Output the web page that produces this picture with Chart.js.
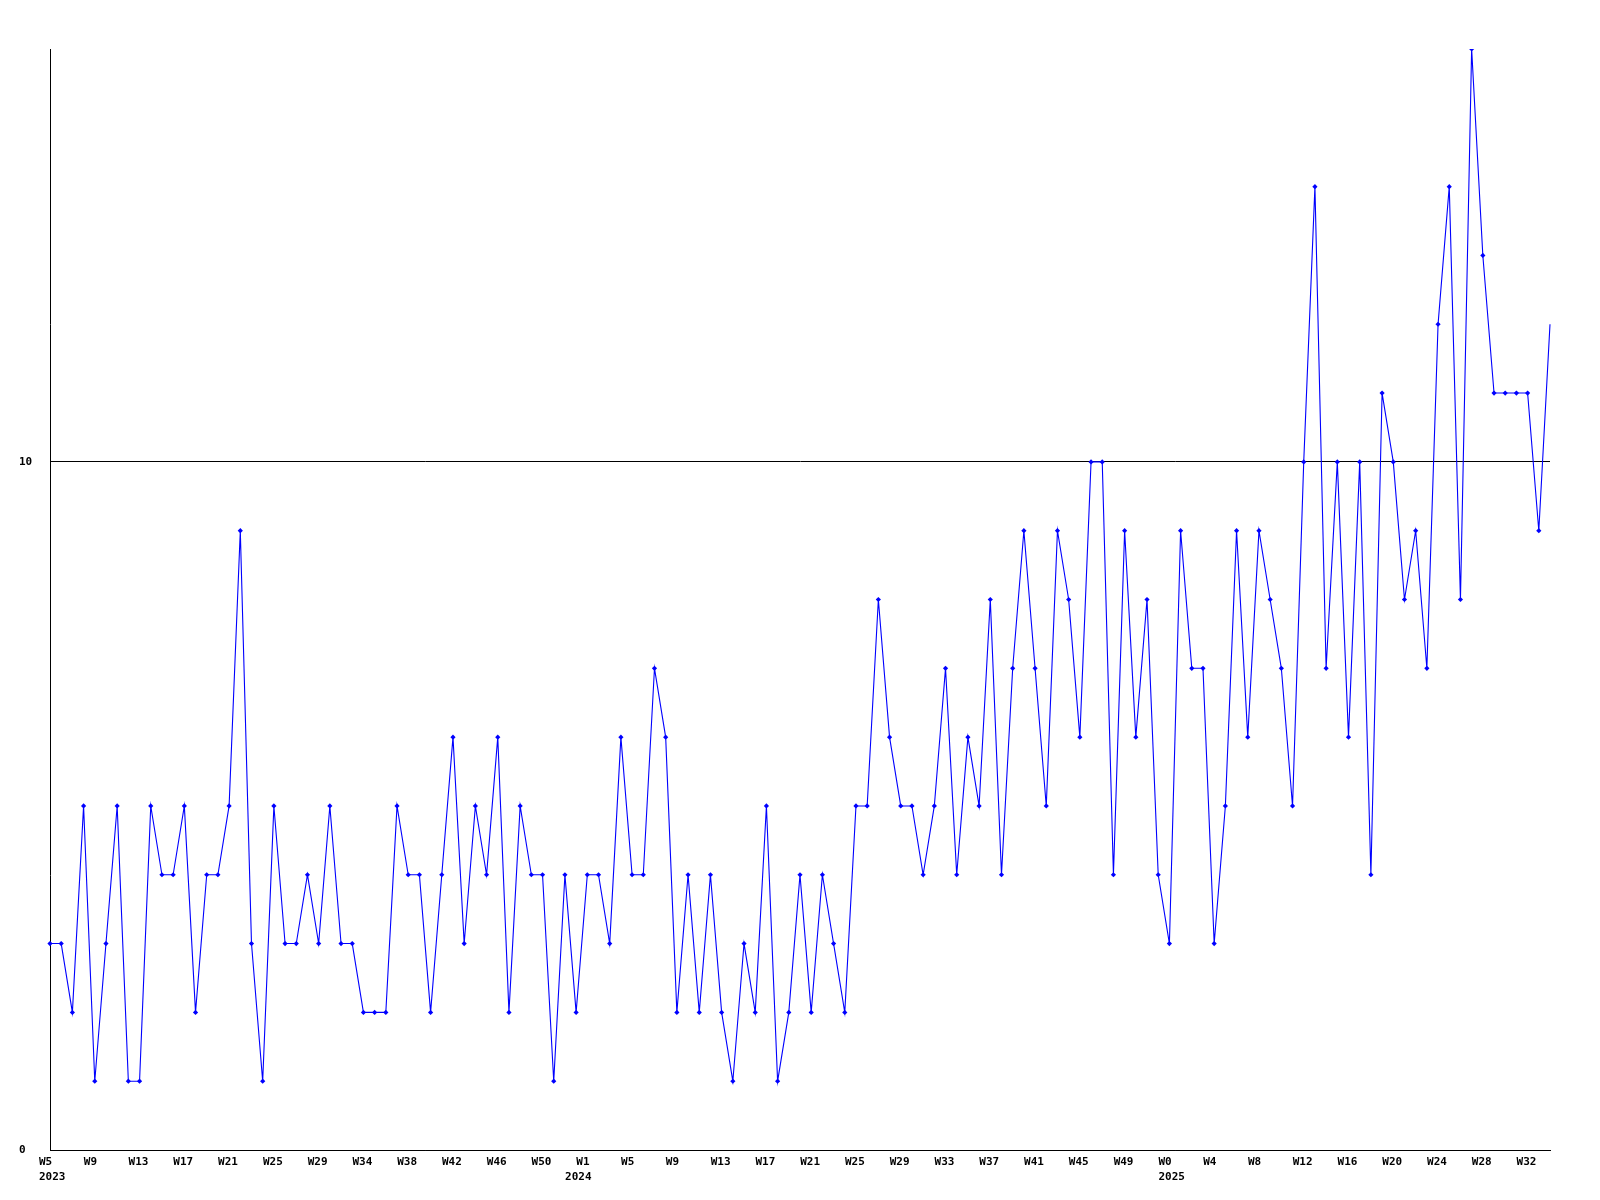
<!DOCTYPE html>
<html>
<head>
<meta charset="utf-8">
<script src="https://cdn.jsdelivr.net/npm/chart.js@4"></script>
<style>
  body { margin: 0; background: #fff; }
  canvas { display: block; }
</style>
</head>
<body>
<canvas id="weeklyChart" width="1600" height="1200"></canvas>
<script>
// week numbers per year (2023 has no W30 point)
const weeks2023 = [5, 6, 7, 8, 9, 10, 11, 12, 13, 14, 15, 16, 17, 18, 19, 20, 21, 22, 23, 24, 25, 26, 27, 28, 29,
    31, 32, 33, 34, 35, 36, 37, 38, 39, 40, 41, 42, 43, 44, 45, 46, 47, 48, 49, 50, 51, 52];
const weeks2024 = [0, 1, 2, 3, 4, 5, 6, 7, 8, 9, 10, 11, 12, 13, 14, 15, 16, 17, 18, 19, 20, 21, 22, 23, 24, 25, 26,
    27, 28, 29, 30, 31, 32, 33, 34, 35, 36, 37, 38, 39, 40, 41, 42, 43, 44, 45, 46, 47, 48, 49, 50, 51, 52];
const weeks2025 = [0, 1, 2, 3, 4, 5, 6, 7, 8, 9, 10, 11, 12, 13, 14, 15, 16, 17, 18, 19, 20, 21, 22, 23, 24, 25,
    26, 27, 28, 29, 30, 31, 32, 33, 34];

const counts = [
    3, 3, 2, 5, 1, 3, 5, 1, 1, 5,
    4, 4, 5, 2, 4, 4, 5, 9, 3, 1,
    5, 3, 3, 4, 3, 5, 3, 3, 2, 2,
    2, 5, 4, 4, 2, 4, 6, 3, 5, 4,
    6, 2, 5, 4, 4, 1, 4, 2, 4, 4,
    3, 6, 4, 4, 7, 6, 2, 4, 2, 4,
    2, 1, 3, 2, 5, 1, 2, 4, 2, 4,
    3, 2, 5, 5, 8, 6, 5, 5, 4, 5,
    7, 4, 6, 5, 8, 4, 7, 9, 7, 5,
    9, 8, 6, 10, 10, 4, 9, 6, 8, 4,
    3, 9, 7, 7, 3, 5, 9, 6, 9, 8,
    7, 5, 10, 14, 7, 10, 6, 10, 4, 11,
    10, 8, 9, 7, 12, 14, 8, 16, 13, 11,
    11, 11, 11, 9, 12
];

const yTicks = [0, 10];

const labels = [];
const yearAt = {};   // index of first week of each year -> year
[[2023, weeks2023], [2024, weeks2024], [2025, weeks2025]].forEach(([year, weeks]) => {
    weeks.forEach((w, i) => {
        if (i === 0) yearAt[labels.length] = year;
        labels.push('W' + w);
    });
});

const font = { family: 'DejaVu Sans Mono', size: 11, weight: 'bold', lineHeight: 1.35 };

new Chart(document.getElementById('weeklyChart').getContext('2d'), {
    type: 'line',
    data: {
        labels,
        datasets: [{
            data: counts,
            borderColor: '#0000ff',
            backgroundColor: '#0000ff',
            borderWidth: 1.1,
            pointStyle: 'rectRot',
            pointRadius: ctx => ctx.dataIndex === counts.length - 1 ? 0 : 2.6,
            pointBorderWidth: 0,
            tension: 0,
            fill: false,
        }]
    },
    options: {
        responsive: false,
        animation: false,
        devicePixelRatio: 1,
        layout: { padding: { top: 49, left: 19, right: 50, bottom: 0 } },
        plugins: {
            legend: { display: false },
            tooltip: { enabled: false },
        },
        scales: {
            x: {
                grid: { display: false, drawTicks: false },
                border: { display: true, color: '#000', width: 1 },
                ticks: {
                    autoSkip: false,
                    maxRotation: 0,
                    align: 'start',
                    labelOffset: -11,
                    padding: 5,
                    color: '#000',
                    font,
                    callback(value, index) {
                        const week = index % 4 === 0 ? this.getLabelForValue(value) : '';
                        if (yearAt[index] !== undefined) return [week, String(yearAt[index])];
                        return week;
                    }
                },
                afterFit(scale) { scale.height = 50; }
            },
            y: {
                min: 0,
                max: 16,
                afterBuildTicks(scale) { scale.ticks = yTicks.map(v => ({ value: v })); },
                grid: { color: '#000', lineWidth: 1, drawTicks: false },
                border: { display: true, color: '#000', width: 1 },
                ticks: {
                    crossAlign: 'far',
                    color: '#000',
                    font,
                },
                afterFit(scale) { scale.width = 31; }
            }
        }
    }
});
</script>
</body>
</html>
